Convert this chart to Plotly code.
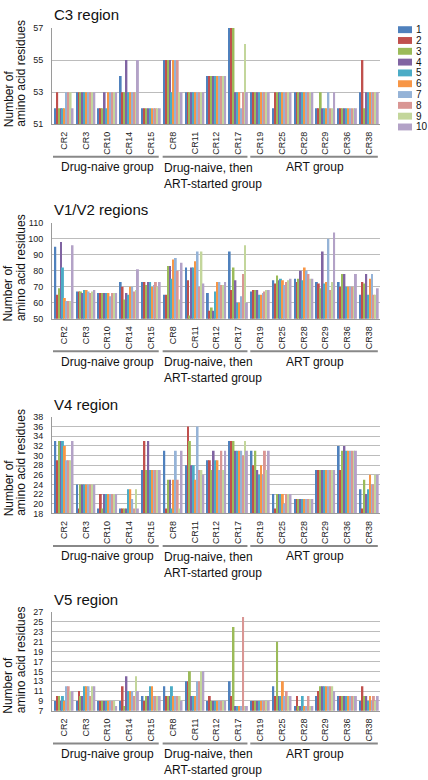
import plotly.graph_objects as go

patients = ["CR2", "CR3", "CR10", "CR14", "CR15", "CR8", "CR11", "CR12", "CR17",
            "CR19", "CR25", "CR28", "CR29", "CR36", "CR38"]
clones = ["1", "2", "3", "4", "5", "6", "7", "8", "9", "10"]
colors = ["#4F81BD", "#C0504D", "#9BBB59", "#8064A2", "#4BACC6",
          "#F79646", "#95B3D7", "#D99694", "#C3D69B", "#B3A2C7"]

groups = ["Drug-naive group", "Drug-naive, then<br>ART-started group", "ART group"]

# rows = patients, columns = clones 1..10
c3_values = [
    [52, 53, 52, 52, 52, 52, 53, 53, 53, 52],
    [53, 53, 53, 53, 53, 53, 53, 53, 53, 53],
    [52, 52, 52, 53, 52, 53, 53, 53, 53, 53],
    [54, 53, 53, 55, 53, 53, 53, 53, 53, 55],
    [52, 52, 52, 52, 52, 52, 52, 52, 52, 52],
    [55, 55, 55, 55, 53, 55, 55, 55, 53, 53],
    [53, 53, 53, 53, 53, 53, 53, 53, 53, 53],
    [54, 54, 54, 54, 54, 54, 54, 54, 54, 54],
    [57, 57, 57, 53, 53, 53, 52, 53, 56, 53],
    [53, 53, 53, 53, 53, 53, 53, 53, 53, 53],
    [52, 53, 53, 53, 53, 53, 53, 53, 53, 53],
    [53, 53, 53, 53, 53, 53, 53, 53, 53, 53],
    [52, 52, 53, 52, 52, 52, 53, 52, 52, 53],
    [52, 52, 52, 52, 52, 52, 52, 52, 52, 52],
    [53, 55, 52, 53, 53, 53, 53, 53, 53, 53],
]

v1v2_values = [
    [95, 65, 69, 98, 82, 63, 61, 61, 61, 96],
    [67, 67, 67, 66, 68, 68, 67, 66, 67, 68],
    [66, 66, 66, 66, 66, 66, 64, 66, 66, 66],
    [73, 70, 62, 66, 65, 70, 70, 67, 68, 81],
    [73, 73, 71, 73, 73, 70, 71, 73, 70, 73],
    [65, 65, 83, 83, 75, 87, 88, 80, 62, 85],
    [82, 74, 52, 82, 82, 86, 92, 70, 92, 72],
    [66, 55, 57, 55, 67, 73, 73, 71, 71, 73],
    [92, 68, 82, 74, 60, 60, 64, 78, 96, 60],
    [67, 68, 68, 68, 65, 65, 66, 67, 68, 68],
    [74, 72, 77, 74, 75, 74, 71, 73, 74, 75],
    [75, 73, 75, 80, 74, 82, 80, 78, 75, 75],
    [73, 72, 69, 92, 72, 73, 100, 68, 73, 104],
    [73, 70, 78, 78, 70, 70, 70, 70, 70, 78],
    [65, 73, 72, 78, 65, 75, 78, 65, 65, 69],
]

v4_values = [
    [33, 29, 33, 33, 33, 32, 29, 29, 29, 33],
    [24, 19, 24, 24, 24, 24, 24, 24, 24, 24],
    [19, 22, 19, 22, 22, 22, 22, 22, 22, 22],
    [19, 19, 19, 19, 23, 23, 21, 19, 23, 19],
    [27, 33, 27, 33, 27, 27, 27, 27, 27, 27],
    [31, 19, 25, 25, 19, 25, 31, 25, 19, 31],
    [28, 36, 33, 28, 28, 25, 36, 27, 27, 26],
    [29, 29, 27, 31, 29, 29, 27, 31, 27, 31],
    [33, 33, 33, 31, 31, 31, 31, 30, 33, 31],
    [31, 28, 31, 27, 26, 28, 26, 31, 27, 31],
    [22, 19, 22, 22, 22, 22, 20, 22, 22, 22],
    [21, 21, 21, 21, 21, 21, 21, 21, 21, 21],
    [27, 27, 27, 27, 27, 27, 27, 27, 27, 27],
    [32, 27, 31, 32, 31, 31, 31, 31, 31, 31],
    [23, 19, 25, 22, 23, 26, 24, 24, 26, 26],
]

v5_values = [
    [9, 10, 10, 9, 10, 9, 12, 12, 11, 11],
    [9, 11, 10, 10, 12, 12, 12, 10, 12, 12],
    [9, 9, 9, 9, 9, 9, 9, 9, 9, 8],
    [9, 12, 8, 14, 11, 11, 11, 10, 14, 11],
    [10, 9, 10, 10, 12, 12, 10, 10, 10, 10],
    [12, 10, 10, 10, 12, 10, 10, 10, 10, 9],
    [13, 13, 15, 10, 10, 10, 13, 13, 15, 15],
    [9, 10, 9, 9, 9, 9, 9, 9, 9, 9],
    [13, 10, 24, 8, 8, 8, 8, 26, 8, 8],
    [9, 9, 9, 9, 9, 9, 9, 9, 9, 9],
    [12, 10, 21, 10, 10, 13, 10, 11, 10, 10],
    [8, 10, 8, 8, 10, 8, 8, 10, 8, 8],
    [10, 11, 12, 12, 12, 12, 12, 12, 12, 11],
    [10, 10, 10, 10, 10, 10, 10, 10, 10, 10],
    [9, 12, 10, 10, 9, 10, 9, 10, 9, 10],
]

W, H = 428, 780
FONT = "Liberation Sans, Arial, sans-serif"


def py(p):
    return 1 - p / H


def px(p):
    return p / W


panels = [
    dict(title="C3 region", vals=c3_values, rng=[51, 57], dtick=2, top=23.3, bot=120.8, ty=10),
    dict(title="V1/V2 regions", vals=v1v2_values, rng=[50, 110], dtick=10, top=220.7, bot=317.7, ty=207),
    dict(title="V4 region", vals=v4_values, rng=[18, 38], dtick=2, top=417.3, bot=515, ty=405),
    dict(title="V5 region", vals=v5_values, rng=[7, 27], dtick=2, top=615, bot=715, ty=602),
]

fig = go.Figure()
annotations = []
shapes = []
x0, x1 = px(52), px(380)


def note(text, x, y, xref="paper", xanchor="center", size=12, angle=0, yanchor="middle", align="center"):
    annotations.append(dict(text=text, x=x, y=y, xref=xref, yref="paper", xanchor=xanchor,
                            yanchor=yanchor, textangle=angle, showarrow=False, borderpad=0,
                            align=align, font=dict(size=size, color="#111", family=FONT)))


for i, p in enumerate(panels):
    sfx = "" if i == 0 else str(i + 1)
    for k in range(10):
        fig.add_trace(go.Bar(
            x=patients, y=[row[k] for row in p["vals"]], name=clones[k],
            marker=dict(color=colors[k], line=dict(width=0)),
            xaxis="x" + sfx, yaxis="y" + sfx, showlegend=False,
        ))
    fig.update_layout(**{
        ("xaxis" + sfx if sfx else "xaxis"): dict(
            domain=[x0, x1], anchor="y" + sfx, type="category",
            tickangle=-90, tickfont=dict(size=9, color="#222", family=FONT),
            showline=True, linecolor="#9a9a9a", linewidth=1,
            showgrid=False, ticks="", ticklabelstandoff=3, fixedrange=True,
        ),
        ("yaxis" + sfx if sfx else "yaxis"): dict(
            domain=[py(p["bot"]), py(p["top"])], anchor="x" + sfx,
            range=p["rng"], tick0=p["rng"][0], dtick=p["dtick"],
            tickfont=dict(size=9, color="#222", family=FONT),
            showline=True, linecolor="#9a9a9a", linewidth=1,
            showgrid=True, gridcolor="#bcbcbc", gridwidth=1,
            zeroline=False, ticks="", ticklabelstandoff=6, fixedrange=True,
        ),
    })
    xr = "x" + sfx
    # panel title
    note(p["title"], px(53), py(p["ty"]), xanchor="left", size=15)
    # y-axis title (two lines)
    note("Number of", px(8.5), py(p["bot"] + 4), angle=-90, yanchor="bottom")
    note("amino acid residues", px(21), py(p["bot"] + 4), angle=-90, yanchor="bottom")
    # group lines
    ly = py(p["bot"] + 33)
    for a, b in [(-0.5, 4.35), (4.53, 8.42), (8.55, 14.4)]:
        shapes.append(dict(type="line", xref=xr, yref="paper", x0=a, x1=b, y0=ly, y1=ly,
                           line=dict(color="#888", width=2)))
    gy1 = py(p["bot"] + 43.5)
    note(groups[0], 2, gy1, xref=xr)
    note(groups[1], 4.53, py(p["bot"] + 36), xref=xr, xanchor="left", yanchor="top", align="left")
    note(groups[2], 11.5, gy1, xref=xr)

# custom compact legend
for k in range(10):
    cy = 25 + k * 10.95
    shapes.append(dict(type="rect", xref="paper", yref="paper", x0=px(398), x1=px(412),
                       y0=py(cy + 3.5), y1=py(cy - 3.5), fillcolor=colors[k], line=dict(width=0)))
    note(clones[k], px(414.5), py(cy), xanchor="left", size=10)

fig.update_layout(
    width=W, height=H, margin=dict(l=0, r=0, t=0, b=0),
    paper_bgcolor="white", plot_bgcolor="white",
    barmode="group", bargap=0.12, bargroupgap=0,
    showlegend=False, annotations=annotations, shapes=shapes,
    font=dict(family=FONT),
)

fig.write_html(
    "out.html",
    config={"displayModeBar": False},
    post_script="document.body.style.margin='0';document.body.style.overflow='hidden';",
)
